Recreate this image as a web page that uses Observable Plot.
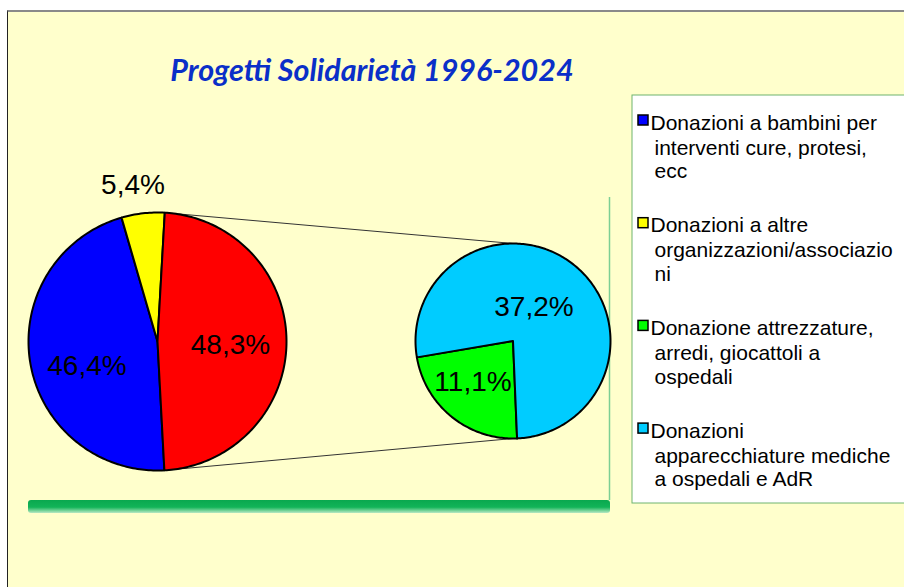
<!DOCTYPE html>
<html><head><meta charset="utf-8">
<script src="https://cdn.jsdelivr.net/npm/d3@7"></script>
<script src="https://cdn.jsdelivr.net/npm/@observablehq/plot@0.6"></script>
<style>
html,body{margin:0;padding:0;background:#fff;width:904px;height:587px;overflow:hidden;}
#frame{position:absolute;left:7px;top:10px;width:1000px;height:700px;background:#FFFFCC;border-left:1.5px solid #222;border-top:2px solid #8a8a8a;}
#chart{position:absolute;left:0;top:0;}
</style></head><body><div id="frame"></div><div id="chart"></div>
<script>
// ---- data ----
const title = "Progetti Solidarietà 1996-2024";
const categories = [
  "Donazioni a bambini per\ninterventi cure, protesi,\necc",
  "Donazioni a altre\norganizzazioni/associazio\nni",
  "Donazione attrezzature,\narredi, giocattoli a\nospedali",
  "Donazioni\napparecchiature mediche\na ospedali e AdR"
];
const shares = [46.4, 5.4, 11.1, 37.2];
const colors = ["#0000FF", "#FFFF00", "#00FF00", "#00CCFF"];
const mainPieItems = [0, 1];        // drawn in the first pie
const secondPieItems = [2, 3];      // split into the second pie
const otherColor = "#FF0000";

// ---- layout (not data) ----
const fmt = v => d3.format(".1f")(v).replace(".", ",") + "%";
const otherShare = d3.sum(secondPieItems, i => shares[i]);
const P1 = {cx: 157, cy: 341, r: 129, start: 90 + otherShare / 2 * 3.6};
const P2 = {cx: 512.5, cy: 340.5, r: 97.5, start: 177.6};
// label placement: radius factor, angle tweak (deg)
const labelPlace = {0: [0.578, -9.3], 1: [1.23, -2.4], other: [0.566, 2.4], 2: [0.585, 5.6], 3: [0.41, -7.3]};

const rad = a => a * Math.PI / 180;
const pt = (P, a, k = 1) => ({x: P.cx + k * P.r * Math.sin(rad(a)), y: P.cy - k * P.r * Math.cos(rad(a))});

function layoutPie(items, P) {
  const total = d3.sum(items, d => d.value);
  let a = P.start;
  return items.map(d => {
    const a0 = a, a1 = a + d.value / total * 360;
    a = a1;
    return {...d, a0, a1, P};
  });
}

const pie1 = layoutPie([
  ...mainPieItems.map(i => ({key: i, value: shares[i], color: colors[i]})),
  {key: "other", value: otherShare, color: otherColor}
], P1);
const pie2 = layoutPie(secondPieItems.map(i => ({key: i, value: shares[i], color: colors[i]})), P2);
const allSlices = [...pie1, ...pie2];

const polyPoints = allSlices.flatMap(s => {
  const pts = [{x: s.P.cx, y: s.P.cy}];
  const n = Math.max(2, Math.ceil((s.a1 - s.a0) / 1));
  for (let j = 0; j <= n; j++) pts.push(pt(s.P, s.a0 + (s.a1 - s.a0) * j / n));
  pts.push({x: s.P.cx, y: s.P.cy});
  return pts.map(p => ({...p, key: s.P === P1 ? "a" + s.key : "b" + s.key, color: s.color}));
});

const labelData = allSlices.map(s => {
  const [k, da] = labelPlace[s.key];
  const p = pt(s.P, (s.a0 + s.a1) / 2 + da, k);
  return {...p, text: fmt(s.value)};
});

const other = pie1.find(s => s.key === "other");
const links = [
  {a: pt(P1, other.a0), b: pt(P2, 0)},
  {a: pt(P1, other.a1), b: pt(P2, 180)}
];

const LF = 21;          // legend font size
const LH = 23.5;        // legend line step
const legendRows = categories.map((c, i) => {
  const lines = c.split("\n");
  const base = 129 + i * 102.7;
  return {i, first: lines[0], rest: lines.slice(1).join("\n"), base, color: colors[i]};
});

const greenBar = () => {
  const g = d3.create("svg:g");
  const grad = g.append("defs").append("linearGradient").attr("id", "gbar").attr("x1", 0).attr("y1", 0).attr("x2", 0).attr("y2", 1);
  grad.append("stop").attr("offset", "0%").attr("stop-color", "#0aa84f");
  grad.append("stop").attr("offset", "55%").attr("stop-color", "#12b458");
  grad.append("stop").attr("offset", "100%").attr("stop-color", "#b8e8c4");
  g.append("rect").attr("x", 28).attr("y", 500).attr("width", 582).attr("height", 13).attr("rx", 3).attr("fill", "url(#gbar)");
  return g.node();
};

const font = "'Liberation Sans', Arial, sans-serif";
const chart = Plot.plot({
  width: 904, height: 587, margin: 0,
  x: {domain: [0, 904], range: [0, 904], axis: null},
  y: {domain: [0, 587], range: [0, 587], axis: null},
  color: {type: "identity"},
  style: {background: "transparent", overflow: "visible"},
  marks: [
    Plot.text([title], {x: 371.5, y: 71, text: d => d, fontSize: 30.5, fontFamily: "Lato, sans-serif", fontWeight: "bold", fontStyle: "italic", fill: "#0A2FC8"}),
    Plot.ruleX([609], {y1: 197, y2: 500, stroke: "#7ccf94", strokeWidth: 1.5}),
    greenBar,
    Plot.link(links, {x1: d => d.a.x, y1: d => d.a.y, x2: d => d.b.x, y2: d => d.b.y, stroke: "#333", strokeWidth: 1}),
    Plot.line(polyPoints, {x: "x", y: "y", z: "key", fill: "color", stroke: "#000", strokeWidth: 2, strokeLinejoin: "round", curve: "linear"}),
    Plot.text(labelData, {x: "x", y: "y", text: "text", fontSize: 28, fontFamily: font, fill: "#000"}),
    Plot.rect([0], {x1: 632, x2: 930, y1: 95, y2: 503, fill: "white", stroke: "#6fb46f", strokeWidth: 1}),
    Plot.rect(legendRows, {x1: 638, x2: 648, y1: d => d.base - 14, y2: d => d.base - 4, fill: "color", stroke: "#000", strokeWidth: 1.5}),
    Plot.text(legendRows, {x: 650, y: d => d.base - 0.71 * LF, text: "first", textAnchor: "start", lineAnchor: "top", fontSize: LF, fontFamily: font, fill: "#000"}),
    Plot.text(legendRows, {x: 654, y: d => d.base + LH - 0.71 * LF, text: "rest", textAnchor: "start", lineAnchor: "top", lineHeight: LH / LF, fontSize: LF, fontFamily: font, fill: "#000"})
  ]
});
document.getElementById("chart").appendChild(chart);
</script></body></html>
